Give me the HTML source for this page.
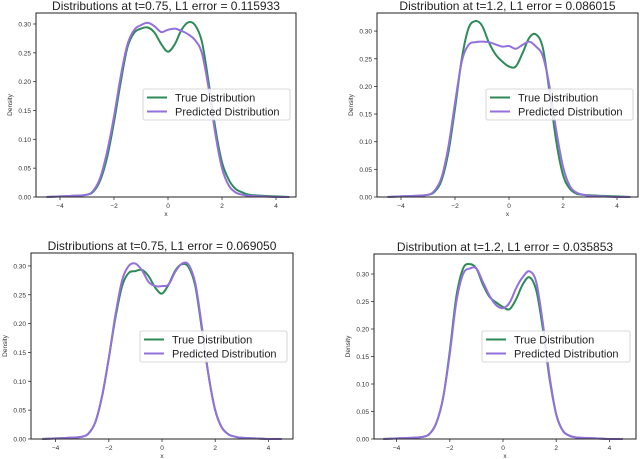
<!DOCTYPE html>
<html><head><meta charset="utf-8"><style>
body{margin:0;background:#fff;}
svg{display:block;font-family:"Liberation Sans","DejaVu Sans",sans-serif;}
</style></head><body>
<svg id="fig" width="640" height="459" viewBox="0 0 640 459"></svg>
<script>
const xGrid=[-4.5,-4,-3.5,-3,-2.75,-2.5,-2.25,-2,-1.75,-1.5,-1.25,-1,-0.75,-0.5,-0.25,0,0.25,0.5,0.75,1,1.25,1.5,1.75,2,2.25,2.5,2.75,3,3.5,4,4.5];
const titles=["Distributions at t=0.75, L1 error = 0.115933","Distribution at t=1.2, L1 error = 0.086015","Distributions at t=0.75, L1 error = 0.069050","Distribution at t=1.2, L1 error = 0.035853"];
const yTicks=[0,0.05,0.1,0.15,0.2,0.25,0.3];
const yTickLabels=["0.00","0.05","0.10","0.15","0.20","0.25","0.30"];
const xTicks=[-4,-2,0,2,4];
const xTickLabels=["\u22124","\u22122","0","2","4"];
const seriesNames=["True Distribution","Predicted Distribution"];
const true1=[0,0.001,0.002,0.004,0.01,0.03,0.07,0.13,0.2,0.26,0.285,0.292,0.294,0.285,0.265,0.252,0.265,0.29,0.303,0.298,0.27,0.2,0.12,0.06,0.03,0.014,0.008,0.004,0.002,0.001,0];
const pred1=[0,0.001,0.002,0.004,0.012,0.035,0.08,0.14,0.21,0.265,0.29,0.298,0.302,0.296,0.286,0.29,0.292,0.288,0.282,0.272,0.25,0.19,0.11,0.05,0.02,0.008,0.004,0.002,0.001,0,0];
const true2=[0,0.001,0.002,0.004,0.01,0.03,0.08,0.16,0.25,0.305,0.318,0.31,0.28,0.258,0.245,0.236,0.236,0.26,0.288,0.294,0.27,0.19,0.1,0.04,0.015,0.006,0.004,0.003,0.002,0.001,0];
const pred2=[0,0.001,0.002,0.004,0.012,0.035,0.09,0.17,0.245,0.275,0.28,0.281,0.28,0.276,0.272,0.273,0.268,0.275,0.281,0.272,0.255,0.2,0.12,0.055,0.02,0.008,0.004,0.002,0.001,0,0];
const true3=[0,0.001,0.002,0.004,0.01,0.03,0.075,0.14,0.21,0.265,0.288,0.291,0.293,0.282,0.262,0.252,0.268,0.292,0.303,0.298,0.265,0.19,0.11,0.05,0.02,0.008,0.004,0.002,0.001,0,0];
const pred3=[0,0.001,0.002,0.004,0.01,0.03,0.075,0.14,0.215,0.275,0.3,0.304,0.292,0.272,0.265,0.265,0.268,0.29,0.304,0.302,0.27,0.195,0.11,0.05,0.02,0.008,0.004,0.002,0.001,0,0];
const true4=[0,0.001,0.002,0.004,0.01,0.03,0.075,0.16,0.26,0.31,0.318,0.31,0.28,0.258,0.248,0.24,0.236,0.255,0.282,0.294,0.27,0.2,0.11,0.045,0.015,0.006,0.003,0.002,0.001,0,0];
const pred4=[0,0.001,0.002,0.004,0.01,0.03,0.075,0.155,0.25,0.3,0.31,0.31,0.285,0.26,0.243,0.238,0.248,0.275,0.295,0.305,0.285,0.21,0.115,0.045,0.015,0.006,0.003,0.002,0.001,0,0];

const panels=[
 {l:36,r:296,t:13,b:197,x0:168,xs:27,ys:576.7,leg:[143,89,147,31],tt:true1,pp:pred1},
 {l:377,r:638,t:13,b:197,x0:509,xs:27,ys:553,leg:[486,89,147,31],tt:true2,pp:pred2},
 {l:31,r:293,t:253,b:439,x0:162,xs:26.6,ys:577,leg:[140,331,147,31],tt:true3,pp:pred3},
 {l:374,r:636,t:254,b:439,x0:503,xs:26.6,ys:550,leg:[482,331,148,31],tt:true4,pp:pred4}
];
const NS="http://www.w3.org/2000/svg";
const svg=document.getElementById('fig');
function mk(tag,attrs,parent){const e=document.createElementNS(NS,tag);for(const k in attrs)e.setAttribute(k,attrs[k]);(parent||svg).appendChild(e);return e;}
function path(pts){let d="M"+pts[0][0].toFixed(1)+","+pts[0][1].toFixed(1);
 for(let i=0;i<pts.length-1;i++){const p0=pts[Math.max(0,i-1)],p1=pts[i],p2=pts[i+1],p3=pts[Math.min(pts.length-1,i+2)];
 const c1=[p1[0]+(p2[0]-p0[0])/6,p1[1]+(p2[1]-p0[1])/6],c2=[p2[0]-(p3[0]-p1[0])/6,p2[1]-(p3[1]-p1[1])/6];
 d+="C"+c1.map(v=>v.toFixed(1))+" "+c2.map(v=>v.toFixed(1))+" "+p2.map(v=>v.toFixed(1));}
 return d;}
panels.forEach((P,i)=>{
 const g=mk('g',{});
 
 
 const X=v=>P.x0+v*P.xs, Y=v=>P.b-v*P.ys;
 const ti=mk('text',{x:(P.l+P.r)/2,y:P.t-3,'text-anchor':'middle','font-size':'12',fill:'#222'},g);
 ti.textContent=titles[i];
 
 
 yTicks.forEach((v,k)=>{
  mk('line',{x1:P.l-3,x2:P.l,y1:Y(v),y2:Y(v),stroke:'#333','stroke-width':0.8},g);
  const t=mk('text',{x:P.l-5,y:Y(v)+2.5,'text-anchor':'end','font-size':'6.5',fill:'#333'},g);
  t.textContent=yTickLabels[k];
  
  
 });
 xTicks.forEach((v,k)=>{
  mk('line',{x1:X(v),x2:X(v),y1:P.b,y2:P.b+3,stroke:'#333','stroke-width':0.8},g);
  const t=mk('text',{x:X(v),y:P.b+11,'text-anchor':'middle','font-size':'6.5',fill:'#333'},g);
  t.textContent=xTickLabels[k];
  
  
 });
 const xl=mk('text',{x:(P.l+P.r)/2,y:P.b+19,'text-anchor':'middle','font-size':'6.5',fill:'#333'},g);
 xl.textContent='x';
 
 
 const yx=P.l-24, yy=(P.t+P.b)/2;
 const yl=mk('text',{x:yx,y:yy,'text-anchor':'middle','font-size':'6.5',fill:'#333',transform:`rotate(-90 ${yx} ${yy})`},g);
 yl.textContent='Density';
 
 
 [[P.tt,'#2e8b57','true-distribution-line'],[P.pp,'#9370db','predicted-distribution-line']].forEach(s=>{
  const pts=xGrid.map((x,j)=>[X(x),Y(s[0][j])]);
  const p=mk('path',{d:path(pts),fill:'none',stroke:s[1],'stroke-width':2,'stroke-linejoin':'round'},g);
  
  
 });
 const fr=mk('rect',{x:P.l,y:P.t,width:P.r-P.l,height:P.b-P.t,fill:'none',stroke:'#222','stroke-width':1},g);
 
 
 const L=P.leg;
 const lg=mk('g',{},g);
 
 
 mk('rect',{x:L[0],y:L[1],width:L[2],height:L[3],rx:2,fill:'#fff','fill-opacity':0.85,stroke:'#ccc','stroke-width':0.8},lg);
 [['#2e8b57',seriesNames[0]],['#9370db',seriesNames[1]]].forEach((s,k)=>{
  const yy2=L[1]+8.5+k*14;
  mk('line',{x1:L[0]+4,x2:L[0]+24,y1:yy2,y2:yy2,stroke:s[0],'stroke-width':2},lg);
  const t=mk('text',{x:L[0]+32,y:yy2+4,'font-size':'11',fill:'#222'},lg);
  t.textContent=s[1];
  
  
 });
});
</script>
</body></html>
